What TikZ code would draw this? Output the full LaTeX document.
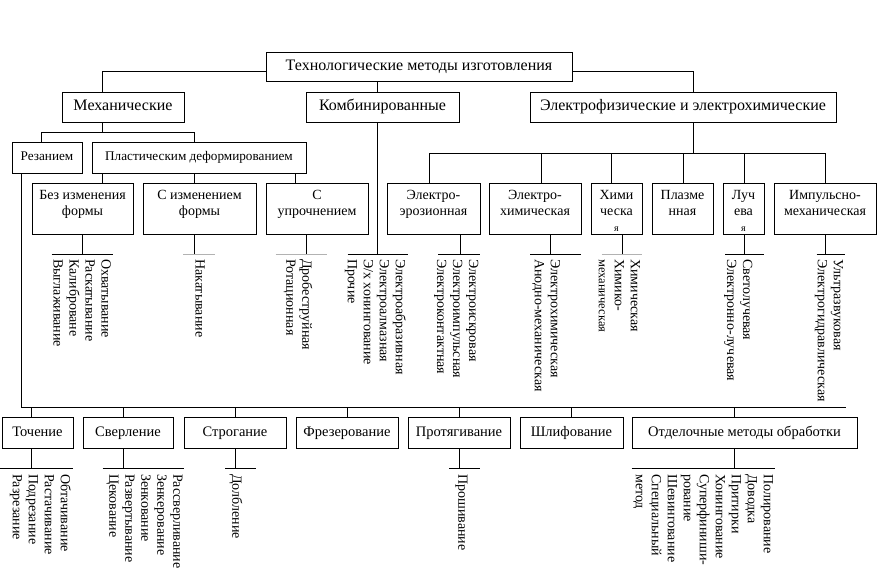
\documentclass[tikz,border=0pt]{standalone}
\usepackage{fontspec}
\setmainfont{Liberation Serif}
\begin{document}
\begin{tikzpicture}[x=1pt,y=-1pt,
 box/.style={draw,line width=0.8pt,inner sep=0pt,outer sep=0pt,anchor=north west,text height=10pt,text depth=3pt,font=\fontsize{14.5}{16}\selectfont},
 bigbox/.style={box,text height=11pt,text depth=3.5pt,font=\fontsize{16}{18}\selectfont},
 midbox/.style={box,text height=9.5pt,text depth=3pt,font=\fontsize{13.2}{16}\selectfont},
 tall/.style={draw,line width=0.8pt,inner sep=0pt,outer sep=0pt,anchor=north west,minimum height=51pt},
 ln/.style={line width=0.8pt},
 gr/.style={line width=0.8pt,draw=gray!60},
 vl/.style={rotate=-90,anchor=north west,align=left,inner sep=0pt,font=\fontsize{14}{16}\selectfont},
 tl/.style={anchor=north,align=center,inner sep=0pt,yshift=-7.5pt,font=\fontsize{14}{16}\selectfont}]
\useasboundingbox (0,0) rectangle (877,570);
% level 0-1
\node[bigbox,minimum width=306pt,minimum height=29pt] (title) at (266,52) {Технологические методы изготовления};
\node[bigbox,minimum width=122pt,minimum height=30pt] (mech) at (62,92) {Механические};
\node[bigbox,minimum width=153pt,minimum height=30pt] (komb) at (306,92) {Комбинированные};
\node[bigbox,minimum width=306pt,minimum height=30pt] (elec) at (530,92) {Электрофизические и электрохимические};
% level 2
\node[midbox,minimum width=70pt,minimum height=31pt] (rez) at (12,142) {Резанием};
\node[midbox,minimum width=214pt,minimum height=31pt] (plast) at (92,142) {Пластическим деформированием};
% level 3 tall boxes
\node[tall,minimum width=101pt] (bez) at (32,183) {};
\node[tl] (bezt) at (bez.north) {Без изменения\\формы};
\node[tall,minimum width=113pt] (sizm) at (143,183) {};
\node[tl] (sizmt) at (sizm.north) {С изменением\\формы};
\node[tall,minimum width=102pt] (supr) at (266,183) {};
\node[tl] (suprt) at (supr.north) {С\\упрочнением};
\node[tall,minimum width=93pt] (ero) at (387,183) {};
\node[tl] (erot) at (ero.north) {Электро-\\эрозионная};
\node[tall,minimum width=92pt] (ehim) at (489,183) {};
\node[tl] (ehimt) at (ehim.north) {Электро-\\химическая};
\node[tall,minimum width=51pt] (him) at (591,183) {};
\node[tl] (himt) at (him.north) {Хими\\ческа\\{\fontsize{10}{12}\selectfont я}};
\node[tall,minimum width=61pt] (plaz) at (652,183) {};
\node[tl] (plazt) at (plaz.north) {Плазме\\нная};
\node[tall,minimum width=41pt] (luch) at (723,183) {};
\node[tl] (lucht) at (luch.north) {Луч\\ева\\{\fontsize{10}{12}\selectfont я}};
\node[tall,minimum width=102pt] (imp) at (774,183) {};
\node[tl] (impt) at (imp.north) {Импульсно-\\механическая};
% bottom row
\node[box,minimum width=71pt,minimum height=31pt] (toch) at (2,417) {Точение};
\node[box,minimum width=90pt,minimum height=31pt] (sverl) at (83,417) {Сверление};
\node[box,minimum width=102pt,minimum height=31pt] (strog) at (184,417) {Строгание};
\node[box,minimum width=102pt,minimum height=31pt] (frez) at (296,417) {Фрезерование};
\node[box,minimum width=102pt,minimum height=31pt] (prot) at (408,417) {Протягивание};
\node[box,minimum width=103pt,minimum height=31pt] (shlif) at (520,417) {Шлифование};
\node[box,minimum width=225pt,minimum height=31pt] (otdel) at (632,417) {Отделочные методы обработки};
% connectors top
\draw[ln] ([yshift=9.3pt]title.south west) -| ([xshift=40.7pt]mech.north west);
\draw[ln] ([xshift=111.7pt]title.south west) -- ([xshift=71.7pt]komb.north west);
\draw[ln] ([yshift=9.3pt]title.south east) -| ([xshift=163.3pt]elec.north west);
% mech
\coordinate (mbus) at (0,132.7);
\draw[ln] ([xshift=40.7pt]mech.south west) -- ([xshift=40.7pt]mech.south west |- mbus);
\draw[ln] ([xshift=29.7pt]rez.north west) |- (mbus -| plast.north west) -| ([xshift=102.3pt]plast.north west);
\draw[ln] ([xshift=10.7pt]plast.south west) -- ([xshift=70.7pt]bez.north west);
\draw[ln] ([xshift=102.3pt]plast.south west) -- ([xshift=51.3pt]sizm.north west);
\draw[ln] ([xshift=203.7pt]plast.south west) -- ([xshift=29.7pt]supr.north west);
% elec
\coordinate (ebus) at (0,153.3);
\draw[ln] ([xshift=163.3pt]elec.south west) -- ([xshift=163.3pt]elec.south west |- ebus);
\draw[ln] ([xshift=42pt]ero.north west) |- ([xshift=51.7pt]imp.north west |- ebus) -- ([xshift=51.7pt]imp.north west);
\draw[ln] ([xshift=52pt]ehim.north west) -- ([xshift=52pt]ehim.north west |- ebus);
\draw[ln] ([xshift=20.7pt]him.north west) -- ([xshift=20.7pt]him.north west |- ebus);
\draw[ln] ([xshift=31.3pt]plaz.north west) -- ([xshift=31.3pt]plaz.north west |- ebus);
\draw[ln] ([xshift=21.3pt]luch.north west) -- ([xshift=21.3pt]luch.north west |- ebus);
% main bus to bottom row
\coordinate (bbus) at (0,407.3);
\draw[ln] ([xshift=9.7pt]rez.south west) |- (845.7,407.3);
\foreach \n/\s in {toch/29.7,sverl/40.3,strog/51.7,frez/51.7,prot/51.3,shlif/51.7,otdel/102.3}
  \draw[ln] ([xshift=\s pt]\n.north west) -- ([xshift=\s pt]\n.north west |- bbus);
% list bars top row
\coordinate (lb) at (0,254.3);
\draw[ln] ([xshift=50.3pt]bez.south west) -- ([xshift=50.3pt]bez.south west |- lb);
\draw[ln] (51.7,254.3) -- (113.3,254.3);
\draw[ln] ([xshift=51.3pt]sizm.south west) -- ([xshift=51.3pt]sizm.south west |- lb);
\draw[gr] (183.3,254.3) -- (215,254.3);
\draw[ln] ([xshift=40.3pt]supr.south west) -- ([xshift=40.3pt]supr.south west |- lb);
\draw[gr] (275.7,254.3) -- (326.7,254.3);
\draw[ln] ([xshift=71.7pt]komb.south west) -- ([xshift=71.7pt]komb.south west |- lb);
\draw[ln] (347.7,254.3) -- (408.3,254.3);
\draw[ln] ([xshift=73pt]ero.south west) -- ([xshift=73pt]ero.south west |- lb);
\draw[ln] (438.3,254.3) -- (480,254.3);
\draw[ln] ([xshift=61.7pt]ehim.south west) -- ([xshift=61.7pt]ehim.south west |- lb);
\draw[ln] (530,254.3) -- (581,254.3);
\draw[ln] ([xshift=31.3pt]him.south west) -- ([xshift=31.3pt]him.south west |- lb);
\draw[gr] (601.7,254.3) -- (642.3,254.3);
\draw[ln] ([xshift=21.3pt]luch.south west) -- ([xshift=21.3pt]luch.south west |- lb);
\draw[ln] (725,254.3) -- (764.3,254.3);
\draw[ln] ([xshift=51.7pt]imp.south west) -- ([xshift=51.7pt]imp.south west |- lb);
\draw[ln] (816.7,254.3) -- (845,254.3);
% list bars bottom row
\coordinate (lb2) at (0,468.3);
\foreach \n/\s in {toch/29.7,sverl/40.3,strog/51.7,prot/51.3,otdel/102.3}
  \draw[ln] ([xshift=\s pt]\n.south west) -- ([xshift=\s pt]\n.south west |- lb2);
\draw[ln] (0,468.3) -- (72.7,468.3);
\draw[ln] (102.7,468.3) -- (184.3,468.3);
\draw[ln] (225,468.3) -- (255.7,468.3);
\draw[ln] (449.3,468.3) -- (480,468.3);
\draw[ln] (631.7,468.3) -- (775,468.3);
% vertical lists top
\node[vl] (bezl) at (111,259) {Охватывание\\Раскатывание\\Калиброване\\Выглаживание};
\node[vl] (sizml) at (205,259) {Накатывание};
\node[vl] (suprl) at (312.7,259) {Дробеструйная\\Ротационная};
\node[vl] (kombl) at (406,259) {Электроабразивная\\Электроалмазная\\Э/х хонингование\\Прочие};
\node[vl] (erol) at (478.7,259) {Электроискровая\\Электроимпульсная\\Электроконтактная};
\node[vl] (ehiml) at (560.3,259) {Электрохимическая\\Анодно-механическая};
\node[vl] (himl) at (640.3,259) {Химическая\\Химико-\\{\fontsize{12.5}{14}\selectfont механическая}};
\node[vl] (luchl) at (752.7,259) {Светолучевая\\Электронно-лучевая};
\node[vl] (impl) at (843.3,259) {Ультразвуковая\\Электрогидравлическая};
% vertical lists bottom
\node[vl] (tochl) at (71,474) {Обтачивание\\Растачивание\\Подрезание\\Разрезание};
\node[vl] (sverll) at (182.7,474) {Рассверливание\\Зенкерование\\Зенкование\\Развертывание\\Цекование};
\node[vl] (strogl) at (242.7,474) {Долбление};
\node[vl] (protl) at (467.7,474) {Прошивание};
\node[vl] (otdell) at (773.3,474) {Полирование\\Доводка\\Притирки\\Хонингование\\Суперфиниши-\\рование\\Шевингование\\Специальный\\метод};
\end{tikzpicture}
\end{document}
